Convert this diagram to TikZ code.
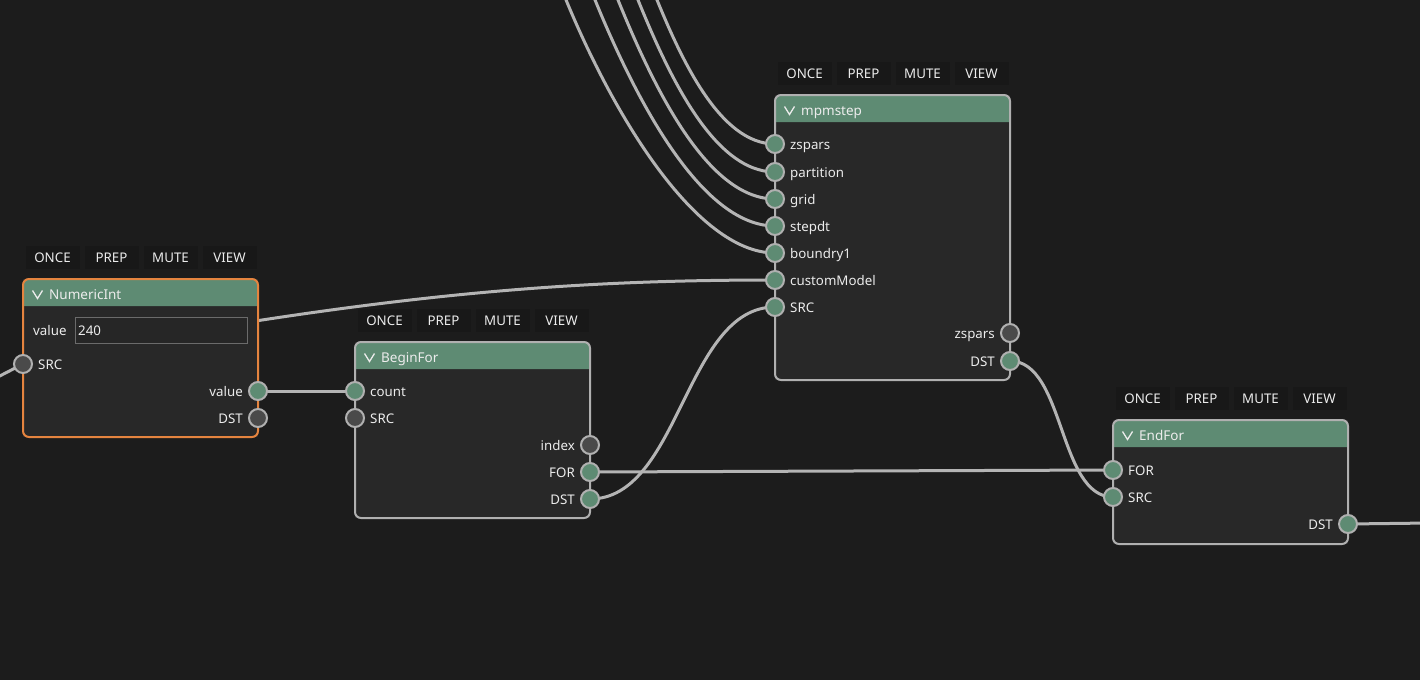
\documentclass[tikz,border=0pt]{standalone}
\usepackage{fontspec}
\setmainfont{Noto Sans}
\usetikzlibrary{calc}
\definecolor{bgc}{HTML}{1C1C1C}
\definecolor{bodyc}{HTML}{282828}
\definecolor{hdrc}{HTML}{5E8B73}
\definecolor{portg}{HTML}{5E8B73}
\definecolor{portd}{HTML}{4A4A4A}
\definecolor{framec}{HTML}{B0B0B0}
\definecolor{orangec}{HTML}{E5843F}
\definecolor{wirec}{HTML}{B4B4B4}
\definecolor{txtc}{HTML}{ECECEC}
\definecolor{btnc}{HTML}{181818}
\definecolor{fieldc}{HTML}{262626}
\definecolor{fieldb}{HTML}{6B6B6B}
\pgfdeclarelayer{back}
\pgfdeclarelayer{wires}
\pgfsetlayers{back,wires,main}
\tikzset{
  body/.style={rectangle, fill=bodyc, inner sep=0pt, outer sep=0pt, minimum width=235pt},
  frame/.style={draw=#1, line width=2pt, rounded corners=6pt},
  chev/.style={draw=txtc, line width=1.3pt},
  uifont/.style={font=\fontsize{13.3}{15}\selectfont},
  btn/.style={uifont, fill=btnc, minimum width=54pt, minimum height=23pt, inner sep=0pt, text=txtc, text height=9.5pt, text depth=0pt},
  gport/.style={circle, fill=portg, draw=framec, line width=2pt, minimum size=18pt, inner sep=0pt},
  dport/.style={gport, fill=portd},
  lbl/.style={uifont, text=txtc, inner sep=0pt, text height=9.5pt, text depth=0pt},
  lbll/.style={lbl, anchor=west},
  lblr/.style={lbl, anchor=east},
  ttl/.style={lbl, anchor=west, font=\fontsize{13.5}{15}\selectfont},
  wire/.style={draw=wirec, line width=3pt},
  field/.style={rectangle, draw=fieldb, fill=fieldc, line width=1pt, minimum width=172pt, minimum height=26pt, inner sep=0pt},
}
% name, x, y, height, title, frame colour
\newcommand\gnode[6]{%
  \node[body, minimum height=#4pt] (#1) at ({#2+117.5},{#3+#4/2}) {};
  \fill[hdrc] ([yshift=-27pt]#1.north west) [rounded corners=6pt] -- (#1.north west) -- (#1.north east) [sharp corners] -- ([yshift=-27pt]#1.north east) -- cycle;
  \draw[frame=#6] (#1.south west) rectangle (#1.north east);
  \draw[chev] ([xshift=9.5pt,yshift=-11.5pt]#1.north west) -- ++(5pt,-8pt) -- ++(5pt,8pt);
  \node[ttl] (#1title) at ([xshift=26pt,yshift=-15.5pt]#1.north west) {#5};
  \node[btn] (#1once) at ({#2+29.5},{#3-21.5}) {ONCE};
  \node[btn] (#1prep) at ({#2+88.5},{#3-21.5}) {PREP};
  \node[btn] (#1mute) at ({#2+147.5},{#3-21.5}) {MUTE};
  \node[btn] (#1view) at ({#2+206.5},{#3-21.5}) {VIEW};
}
\begin{document}
\begin{tikzpicture}[x=1pt, y=-1pt]
\useasboundingbox (0,0) rectangle (1420,680);
\begin{pgfonlayer}{back}
  \fill[bgc] (0,0) rectangle (1420,680);
\end{pgfonlayer}

% ---------- NumericInt ----------
\gnode{num}{23}{279}{158}{NumericInt}{orangec}
\node[lbll] (numvl) at (33,331) {value};
\node[field] (numfield) at (161,330) {};
\node[lbll] (numfv) at (78,331) {240};
\node[dport] (numsrc) at (23,364) {};
\node[lbll] (numsrcl) at (38,365) {SRC};
\node[gport] (numval) at (258,391) {};
\node[lblr] (numvall) at (243,392) {value};
\node[dport] (numdst) at (258,418) {};
\node[lblr] (numdstl) at (243,419) {DST};

% ---------- BeginFor ----------
\gnode{bf}{355}{342}{176}{BeginFor}{framec}
\node[gport] (bfcount) at (355,391) {};
\node[lbll] (bfcountl) at (370,392) {count};
\node[dport] (bfsrc) at (355,418) {};
\node[lbll] (bfsrcl) at (370,419) {SRC};
\node[dport] (bfindex) at (590,445) {};
\node[lblr] (bfindexl) at (575,446) {index};
\node[gport] (bffor) at (590,472) {};
\node[lblr] (bfforl) at (575,473) {FOR};
\node[gport] (bfdst) at (590,499) {};
\node[lblr] (bfdstl) at (575,500) {DST};

% ---------- mpmstep ----------
\gnode{mp}{775}{95}{285}{mpmstep}{framec}
\node[gport] (mpzs) at (775,144) {};
\node[lbll] (mpzsl) at (790,145) {zspars};
\node[gport] (mppart) at (775,172) {};
\node[lbll] (mppartl) at (790,173) {partition};
\node[gport] (mpgrid) at (775,199) {};
\node[lbll] (mpgridl) at (790,200) {grid};
\node[gport] (mpdt) at (775,226) {};
\node[lbll] (mpdtl) at (790,227) {stepdt};
\node[gport] (mpbnd) at (775,253) {};
\node[lbll] (mpbndl) at (790,254) {boundry1};
\node[gport] (mpcm) at (775,280) {};
\node[lbll] (mpcml) at (790,281) {customModel};
\node[gport] (mpsrc) at (775,307) {};
\node[lbll] (mpsrcl) at (790,308) {SRC};
\node[dport] (mpozs) at (1010,333) {};
\node[lblr] (mpozsl) at (995,334) {zspars};
\node[gport] (mpdst) at (1010,361) {};
\node[lblr] (mpdstl) at (995,362) {DST};

% ---------- EndFor ----------
\gnode{ef}{1113}{420}{124}{EndFor}{framec}
\node[gport] (effor) at (1113,470) {};
\node[lbll] (efforl) at (1128,471) {FOR};
\node[gport] (efsrc) at (1113,497) {};
\node[lbll] (efsrcl) at (1128,498) {SRC};
\node[gport] (efdst) at (1348,524) {};
\node[lblr] (efdstl) at (1333,525) {DST};

% ---------- free ends ----------
\coordinate (lin) at (-10,381);
\coordinate (rout) at (1430,523);
\coordinate (cmstart) at (230,325);
\coordinate (t1) at (653,-10);
\coordinate (t2) at (634,-10);
\coordinate (t3) at (614,-10);
\coordinate (t4) at (591,-10);
\coordinate (t5) at (562,-10);

% ---------- wires ----------
\begin{pgfonlayer}{wires}
  \draw[wire] (lin) -- (numsrc.center);
  \draw[wire] (numval.center) -- (bfcount.center);
  \draw[wire] (cmstart) .. controls (450,290) and (600,280) .. (mpcm.center);
  \draw[wire] (bfdst.center) .. controls (680,499) and (685,307) .. (mpsrc.center);
  \draw[wire] (bffor.center) -- (effor.center);
  \draw[wire] (mpdst.center) .. controls (1065,361) and (1058,497) .. (efsrc.center);
  \draw[wire] (efdst.center) -- (rout);
  \draw[wire] (t1) .. controls (681,60) and (720,144) .. (mpzs.center);
  \draw[wire] (t2) .. controls (666,70) and (712,172) .. (mppart.center);
  \draw[wire] (t3) .. controls (650,80) and (705,199) .. (mpgrid.center);
  \draw[wire] (t4) .. controls (633,95) and (700,226) .. (mpdt.center);
  \draw[wire] (t5) .. controls (610,110) and (695,253) .. (mpbnd.center);
\end{pgfonlayer}
\end{tikzpicture}
\end{document}
